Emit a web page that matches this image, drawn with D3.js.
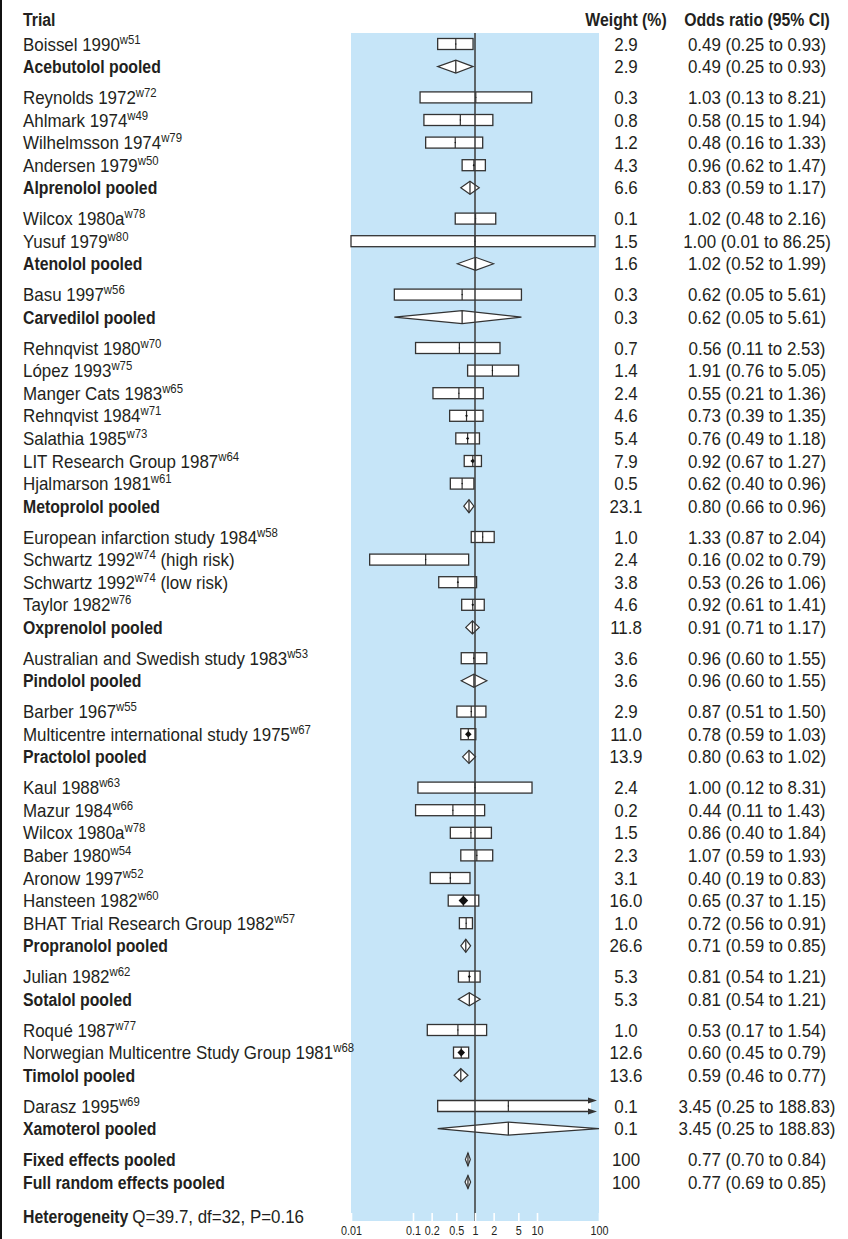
<!DOCTYPE html>
<html><head><meta charset="utf-8">
<script src="https://cdn.jsdelivr.net/npm/d3@7"></script>
<style>
html,body{margin:0;padding:0;background:#fff;}
svg{display:block;}
text{font-family:"Liberation Sans",Arial,sans-serif;fill:#231f20;}
</style></head><body>
<svg id="chart" width="848" height="1239"></svg>
<script>
// Beta blocker trials after myocardial infarction, grouped by drug
const trialNames = [
  "Boissel 1990", "Acebutolol pooled",
  "Reynolds 1972", "Ahlmark 1974", "Wilhelmsson 1974", "Andersen 1979", "Alprenolol pooled",
  "Wilcox 1980a", "Yusuf 1979", "Atenolol pooled",
  "Basu 1997", "Carvedilol pooled",
  "Rehnqvist 1980", "López 1993", "Manger Cats 1983", "Rehnqvist 1984", "Salathia 1985",
  "LIT Research Group 1987", "Hjalmarson 1981", "Metoprolol pooled",
  "European infarction study 1984", "Schwartz 1992", "Schwartz 1992", "Taylor 1982", "Oxprenolol pooled",
  "Australian and Swedish study 1983", "Pindolol pooled",
  "Barber 1967", "Multicentre international study 1975", "Practolol pooled",
  "Kaul 1988", "Mazur 1984", "Wilcox 1980a", "Baber 1980", "Aronow 1997", "Hansteen 1982",
  "BHAT Trial Research Group 1982", "Propranolol pooled",
  "Julian 1982", "Sotalol pooled",
  "Roqué 1987", "Norwegian Multicentre Study Group 1981", "Timolol pooled",
  "Darasz 1995", "Xamoterol pooled",
  "Fixed effects pooled", "Full random effects pooled"
];
const trialRefs = [
  "w51", "",
  "w72", "w49", "w79", "w50", "",
  "w78", "w80", "",
  "w56", "",
  "w70", "w75", "w65", "w71", "w73", "w64", "w61", "",
  "w58", "w74", "w74", "w76", "",
  "w53", "",
  "w55", "w67", "",
  "w63", "w66", "w78", "w54", "w52", "w60", "w57", "",
  "w62", "",
  "w77", "w68", "",
  "w69", "",
  "", ""
];
const trialSuffixes = [
  "", "", "", "", "", "", "", "", "", "", "", "", "", "", "", "", "", "", "", "",
  "", " (high risk)", " (low risk)", "", "",
  "", "", "", "", "", "", "", "", "", "", "", "", "", "", "", "", "", "", "", "", "", ""
];
const rowTypes = [
  "study", "pooled",
  "study", "study", "study", "study", "pooled",
  "study", "study", "pooled",
  "study", "pooled",
  "study", "study", "study", "study", "study", "study", "study", "pooled",
  "study", "study", "study", "study", "pooled",
  "study", "pooled",
  "study", "study", "pooled",
  "study", "study", "study", "study", "study", "study", "study", "pooled",
  "study", "pooled",
  "study", "study", "pooled",
  "study", "pooled",
  "pooled", "pooled"
];
const groupSizes = [2, 5, 3, 2, 8, 5, 2, 3, 8, 2, 3, 2, 2];
const weights = [
  2.9, 2.9,
  0.3, 0.8, 1.2, 4.3, 6.6,
  0.1, 1.5, 1.6,
  0.3, 0.3,
  0.7, 1.4, 2.4, 4.6, 5.4, 7.9, 0.5, 23.1,
  1.0, 2.4, 3.8, 4.6, 11.8,
  3.6, 3.6,
  2.9, 11.0, 13.9,
  2.4, 0.2, 1.5, 2.3, 3.1, 16.0, 1.0, 26.6,
  5.3, 5.3,
  1.0, 12.6, 13.6,
  0.1, 0.1,
  100, 100
];
const oddsRatios = [
  0.49, 0.49,
  1.03, 0.58, 0.48, 0.96, 0.83,
  1.02, 1.00, 1.02,
  0.62, 0.62,
  0.56, 1.91, 0.55, 0.73, 0.76, 0.92, 0.62, 0.80,
  1.33, 0.16, 0.53, 0.92, 0.91,
  0.96, 0.96,
  0.87, 0.78, 0.80,
  1.00, 0.44, 0.86, 1.07, 0.40, 0.65, 0.72, 0.71,
  0.81, 0.81,
  0.53, 0.60, 0.59,
  3.45, 3.45,
  0.77, 0.77
];
const ciLower = [
  0.25, 0.25,
  0.13, 0.15, 0.16, 0.62, 0.59,
  0.48, 0.01, 0.52,
  0.05, 0.05,
  0.11, 0.76, 0.21, 0.39, 0.49, 0.67, 0.40, 0.66,
  0.87, 0.02, 0.26, 0.61, 0.71,
  0.60, 0.60,
  0.51, 0.59, 0.63,
  0.12, 0.11, 0.40, 0.59, 0.19, 0.37, 0.56, 0.59,
  0.54, 0.54,
  0.17, 0.45, 0.46,
  0.25, 0.25,
  0.70, 0.69
];
const ciUpper = [
  0.93, 0.93,
  8.21, 1.94, 1.33, 1.47, 1.17,
  2.16, 86.25, 1.99,
  5.61, 5.61,
  2.53, 5.05, 1.36, 1.35, 1.18, 1.27, 0.96, 0.96,
  2.04, 0.79, 1.06, 1.41, 1.17,
  1.55, 1.55,
  1.50, 1.03, 1.02,
  8.31, 1.43, 1.84, 1.93, 0.83, 1.15, 0.91, 0.85,
  1.21, 1.21,
  1.54, 0.79, 0.77,
  188.83, 188.83,
  0.84, 0.85
];
const axisTicks = [0.01, 0.1, 0.2, 0.5, 1, 2, 5, 10, 100];
const axisTickLabels = ["0.01", "0.1", "0.2", "0.5", "1", "2", "5", "10", "100"];
const columnHeaders = ["Trial", "Weight (%)", "Odds ratio (95% CI)"];
const heterogeneityLabel = ["Heterogeneity", "Q=39.7, df=32, P=0.16"];

const ink = "#231f20";
const markStroke = "#333";
const panelFill = "#c6e5f8";
const fs = 18.6;          // body text size
const squeezeBold = 0.85; // horizontal condensing of the bold sans face
const squeezeReg = 0.91;  // horizontal condensing of the regular sans face
const place = (px, py, bold) => `translate(${px},${py}) scale(${bold ? squeezeBold : squeezeReg},1)`;

const svg = d3.select("#chart");

// Row slots: one unit per row, plus a partial unit between drug groups
const groupGap = 0.363;
const slots = [];
let rowIndex = 0;
groupSizes.forEach((n, g) => {
  for (let k = 0; k < n; k++) { slots.push(rowIndex + g * groupGap); rowIndex++; }
});
const rows = trialNames.map((name, i) => ({
  name, ref: trialRefs[i], suffix: trialSuffixes[i], type: rowTypes[i],
  weight: weights[i], or: oddsRatios[i], lo: ciLower[i], hi: ciUpper[i], slot: slots[i]
}));

const x = d3.scaleLog().domain([0.01, 100]).range([351, 599]);
const y = d3.scaleLinear().domain([0, d3.max(slots)]).range([44, 1182]);

const panelTop = 33, panelBottom = 1221;

// left rule
svg.append("rect").attr("x", 0).attr("y", 0).attr("width", 2).attr("height", 1239).attr("fill", "#111");

// plotting panel
svg.append("rect")
  .attr("x", x(0.01)).attr("y", panelTop)
  .attr("width", x(100) - x(0.01)).attr("height", panelBottom - panelTop)
  .attr("fill", panelFill);

// headers
[[23, "start"], [626, "middle"], [757, "middle"]].forEach(([hx, anchor], i) => {
  svg.append("text").attr("transform", place(hx, 19, true)).attr("dy", "0.35em")
    .attr("text-anchor", anchor).attr("font-size", fs).attr("font-weight", "bold")
    .text(columnHeaders[i]);
});

// trial labels
const labels = svg.append("g").selectAll("text").data(rows).join("text")
  .attr("transform", d => place(23, y(d.slot), d.type === "pooled")).attr("dy", "0.35em")
  .attr("font-size", fs)
  .attr("font-weight", d => d.type === "pooled" ? "bold" : "normal");
labels.append("tspan").text(d => d.name);
labels.filter(d => d.ref).append("tspan").attr("font-size", 12.5).attr("dy", -7).text(d => d.ref);
labels.filter(d => d.ref && d.suffix).append("tspan").attr("dy", 7).text(d => d.suffix);

// weight and odds ratio columns
const fmtW = w => w >= 100 ? String(w) : w.toFixed(1);
const f2 = v => v.toFixed(2);
svg.append("g").selectAll("text").data(rows).join("text")
  .attr("transform", d => place(626, y(d.slot), false)).attr("dy", "0.35em").attr("text-anchor", "middle")
  .attr("font-size", fs).text(d => fmtW(d.weight));
svg.append("g").selectAll("text").data(rows).join("text")
  .attr("transform", d => place(757, y(d.slot), false)).attr("dy", "0.35em").attr("text-anchor", "middle")
  .attr("font-size", fs).text(d => `${f2(d.or)} (${f2(d.lo)} to ${f2(d.hi)})`);

// study confidence intervals as boxes
const boxH = 11;
const xMax = x.domain()[1];
const studies = svg.append("g").selectAll("g").data(rows.filter(d => d.type === "study")).join("g");
studies.each(function(d) {
  const g = d3.select(this);
  const cy = y(d.slot);
  const x0 = x(d.lo);
  const clipped = d.hi > xMax;
  const x1 = clipped ? x(xMax) - 2 : x(d.hi);
  if (!clipped) {
    g.append("rect").attr("x", x0).attr("y", cy - boxH / 2).attr("width", x1 - x0).attr("height", boxH)
      .attr("fill", "#fff").attr("stroke", markStroke).attr("stroke-width", 1.3);
  } else {
    g.append("rect").attr("x", x0).attr("y", cy - boxH / 2).attr("width", x1 - x0 - 6).attr("height", boxH)
      .attr("fill", "#fff").attr("stroke", "none");
    g.append("path")
      .attr("d", `M${x1 - 6},${cy - boxH / 2}H${x0}V${cy + boxH / 2}H${x1 - 6}`)
      .attr("fill", "none").attr("stroke", markStroke).attr("stroke-width", 1.3);
    [cy - boxH / 2, cy + boxH / 2].forEach(ay => {
      g.append("path")
        .attr("d", `M${x1},${ay}L${x1 - 9},${ay - 3}L${x1 - 9},${ay + 3}Z`)
        .attr("fill", markStroke);
    });
  }
  const xo = x(d.or);
  g.append("line").attr("x1", xo).attr("x2", xo).attr("y1", cy - boxH / 2).attr("y2", cy + boxH / 2)
    .attr("stroke", markStroke).attr("stroke-width", 1.2);
  const r = Math.max(0.8, 0.3 * d.weight);
  g.append("path")
    .attr("d", `M${xo - r},${cy}L${xo},${cy - r}L${xo + r},${cy}L${xo},${cy + r}Z`)
    .attr("fill", "#111");
});

// pooled estimates as diamonds
const dH = 6.5;
const pooled = svg.append("g").selectAll("g").data(rows.filter(d => d.type === "pooled")).join("g");
pooled.each(function(d) {
  const g = d3.select(this);
  const cy = y(d.slot);
  const x0 = x(d.lo), xo = x(d.or), x1 = x(Math.min(d.hi, xMax));
  g.append("path")
    .attr("d", `M${x0},${cy}L${xo},${cy - dH}L${x1},${cy}L${xo},${cy + dH}Z`)
    .attr("fill", "#fff").attr("stroke", markStroke).attr("stroke-width", 1.2).attr("stroke-linejoin", "miter");
  g.append("line").attr("x1", xo).attr("x2", xo).attr("y1", cy - dH).attr("y2", cy + dH)
    .attr("stroke", markStroke).attr("stroke-width", 1.3);
});

// line of no effect
svg.append("line").attr("x1", x(1)).attr("x2", x(1)).attr("y1", panelTop).attr("y2", panelBottom)
  .attr("stroke", "#3a3a3a").attr("stroke-width", 1.5);

// log axis along the panel foot
const axis = d3.axisBottom(x).tickValues(axisTicks)
  .tickFormat((d, i) => axisTickLabels[i]).tickSizeInner(-8).tickSizeOuter(0).tickPadding(4);
const axisG = svg.append("g").attr("transform", `translate(0,${panelBottom})`).call(axis);
axisG.select(".domain").remove();
axisG.selectAll(".tick line").attr("stroke", "#fff").attr("stroke-width", 1.6);
axisG.selectAll(".tick text").attr("font-size", 13.5).attr("fill", ink)
  .attr("font-family", "'Liberation Sans',Arial,sans-serif")
  .attr("transform", "scale(0.8,1)");

// heterogeneity note: bold heading followed by the test statistics
const hetHead = svg.append("text").attr("transform", place(23, 1216, true)).attr("dy", "0.35em")
  .attr("font-size", fs).attr("font-weight", "bold").text(heterogeneityLabel[0]);
const hetEnd = 23 + hetHead.node().getComputedTextLength() * squeezeBold + 4;
svg.append("text").attr("transform", place(hetEnd, 1216, false)).attr("dy", "0.35em")
  .attr("font-size", fs).text(heterogeneityLabel[1]);
</script>
</body></html>
